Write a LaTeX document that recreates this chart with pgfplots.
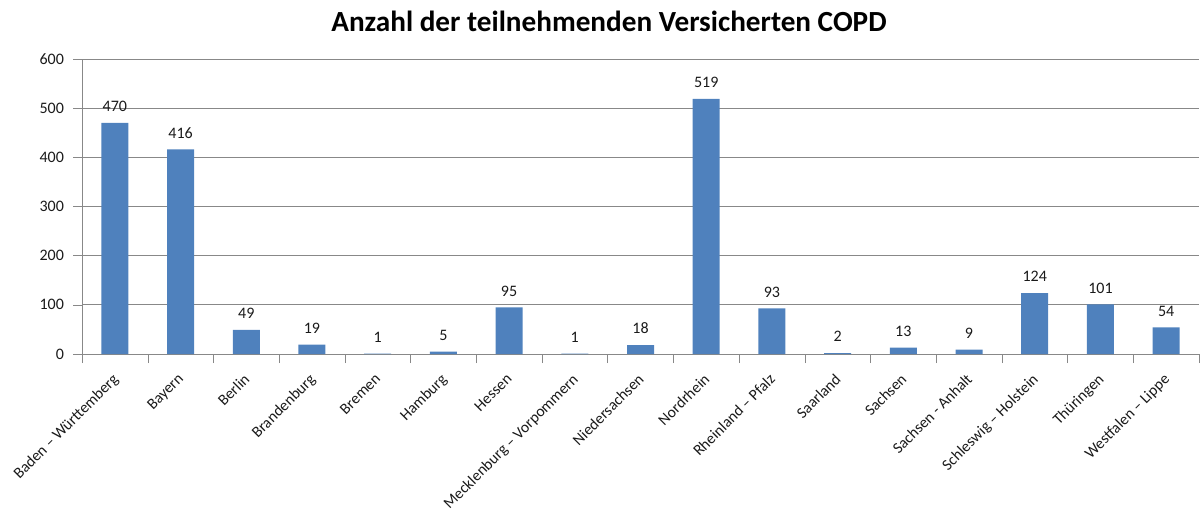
\documentclass[border=0pt]{standalone}
\usepackage{pgfplots}
\pgfplotsset{compat=1.18}
\usepackage{fontspec}
\setmainfont{Carlito}
\definecolor{barblue}{HTML}{4F81BD}
\definecolor{axgray}{HTML}{888888}
\definecolor{txt}{HTML}{1A1A1A}
\begin{document}
\begin{tikzpicture}
\useasboundingbox (0,0) rectangle (600pt,255pt);
\node[font=\fontsize{14.6}{16}\selectfont\bfseries, text=black] at (304.5pt,244.5pt) {Anzahl der teilnehmenden Versicherten COPD};
\begin{axis}[
  at={(41pt,78pt)}, anchor=south west,
  scale only axis, width=558.5pt, height=147.5pt,
  xmin=-0.5, xmax=16.5, ymin=0, ymax=600,
  ytick={0,100,...,600},
  xtick={0,...,16},
  xticklabels={Baden – Württemberg, Bayern, Berlin, Brandenburg, Bremen, Hamburg, Hessen, Mecklenburg – Vorpommern, Niedersachsen, Nordrhein, Rheinland – Pfalz, Saarland, Sachsen, Sachsen - Anhalt, Schleswig – Holstein, Thüringen, Westfalen – Lippe},
  minor xtick={-0.5,0.5,...,16.5},
  major x tick style={draw=none},
  minor x tick style={draw=axgray},
  minor tick length=4.5pt,
  major tick length=4.5pt,
  tick align=outside,
  axis lines*=left,
  axis line style={draw=axgray,-},
  y tick style={draw=axgray},
  ymajorgrids, grid style={draw=axgray, line width=0.5pt},
  x tick label style={rotate=45, anchor=north east, font=\fontsize{7.8}{9}\selectfont, text=txt, inner sep=1pt, xshift=-3.5pt, yshift=-1pt},
  y tick label style={font=\fontsize{8}{9}\selectfont, text=txt, xshift=-1pt},
  /pgf/number format/assume math mode=true,
  ybar, bar width=13.5pt,
  nodes near coords,
  every node near coord/.append style={font=\fontsize{8}{9}\selectfont, text=txt, yshift=2pt},
  clip=false,
]
\addplot[fill=barblue, draw=none] coordinates {
(0,470) (1,416) (2,49) (3,19) (4,1) (5,5) (6,95) (7,1) (8,18) (9,519) (10,93) (11,2) (12,13) (13,9) (14,124) (15,101) (16,54)
};
\end{axis}
\end{tikzpicture}
\end{document}
